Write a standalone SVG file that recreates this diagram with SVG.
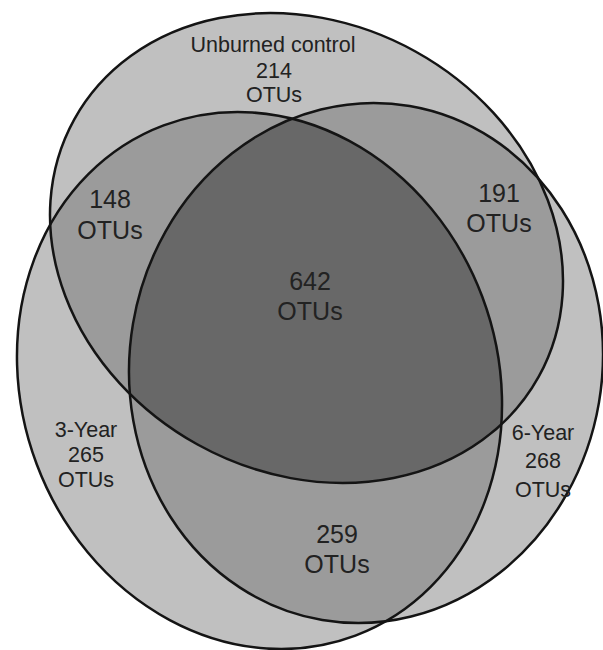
<svg xmlns="http://www.w3.org/2000/svg" width="603" height="650" viewBox="0 0 603 650">
<style>
.single{fill:#c0c0c0}
.double{fill:#9b9b9b}
.triple{fill:#686868}
.outline{fill:none;stroke:#141414;stroke-width:2.5}
.lbl{font-family:"Liberation Sans",Arial,Helvetica,sans-serif;fill:#222;text-anchor:middle}
.sm{font-size:21.5px}
.lg{font-size:25px}
</style>
<defs>
<clipPath id="cB"><ellipse cx="0" cy="0" rx="238" ry="272.5" transform="translate(259.5 380.5) rotate(-20.6)"/></clipPath>
<clipPath id="cC"><ellipse cx="0" cy="0" rx="236.3" ry="260.7" transform="translate(366 363) rotate(9.65)"/></clipPath>
</defs>
<rect width="603" height="650" fill="#ffffff"/>
<g id="fills">
<ellipse class="single" cx="0" cy="0" rx="265.5" ry="224.7" transform="translate(306.5 248) rotate(29)"/>
<ellipse class="single" cx="0" cy="0" rx="238" ry="272.5" transform="translate(259.5 380.5) rotate(-20.6)"/>
<ellipse class="single" cx="0" cy="0" rx="236.3" ry="260.7" transform="translate(366 363) rotate(9.65)"/>
<g clip-path="url(#cB)"><ellipse class="double" cx="0" cy="0" rx="265.5" ry="224.7" transform="translate(306.5 248) rotate(29)"/></g>
<g clip-path="url(#cC)"><ellipse class="double" cx="0" cy="0" rx="265.5" ry="224.7" transform="translate(306.5 248) rotate(29)"/></g>
<g clip-path="url(#cC)"><ellipse class="double" cx="0" cy="0" rx="238" ry="272.5" transform="translate(259.5 380.5) rotate(-20.6)"/></g>
<g clip-path="url(#cC)"><g clip-path="url(#cB)"><ellipse class="triple" cx="0" cy="0" rx="265.5" ry="224.7" transform="translate(306.5 248) rotate(29)"/></g></g>
</g>
<g id="unburned-control">
<ellipse class="outline" cx="0" cy="0" rx="265.5" ry="224.7" transform="translate(306.5 248) rotate(29)"/>
<text class="lbl sm" x="273" y="52">Unburned control</text>
<text class="lbl sm" x="274" y="78">214</text>
<text class="lbl sm" x="274" y="102">OTUs</text>
</g>
<g id="three-year">
<ellipse class="outline" cx="0" cy="0" rx="238" ry="272.5" transform="translate(259.5 380.5) rotate(-20.6)"/>
<text class="lbl sm" x="86" y="437">3-Year</text>
<text class="lbl sm" x="86" y="462">265</text>
<text class="lbl sm" x="86" y="487">OTUs</text>
</g>
<g id="six-year">
<ellipse class="outline" cx="0" cy="0" rx="236.3" ry="260.7" transform="translate(366 363) rotate(9.65)"/>
<text class="lbl sm" x="543" y="440">6-Year</text>
<text class="lbl sm" x="543" y="468">268</text>
<text class="lbl sm" x="543" y="497">OTUs</text>
</g>
<g id="overlap-unburned-3year">
<text class="lbl lg" x="110" y="208">148</text>
<text class="lbl lg" x="110" y="239">OTUs</text>
</g>
<g id="overlap-unburned-6year">
<text class="lbl lg" x="499" y="202">191</text>
<text class="lbl lg" x="499" y="232">OTUs</text>
</g>
<g id="overlap-all">
<text class="lbl lg" x="310" y="290">642</text>
<text class="lbl lg" x="310" y="320">OTUs</text>
</g>
<g id="overlap-3year-6year">
<text class="lbl lg" x="337" y="543">259</text>
<text class="lbl lg" x="337" y="573">OTUs</text>
</g>
<g id="connectors"></g>
</svg>
